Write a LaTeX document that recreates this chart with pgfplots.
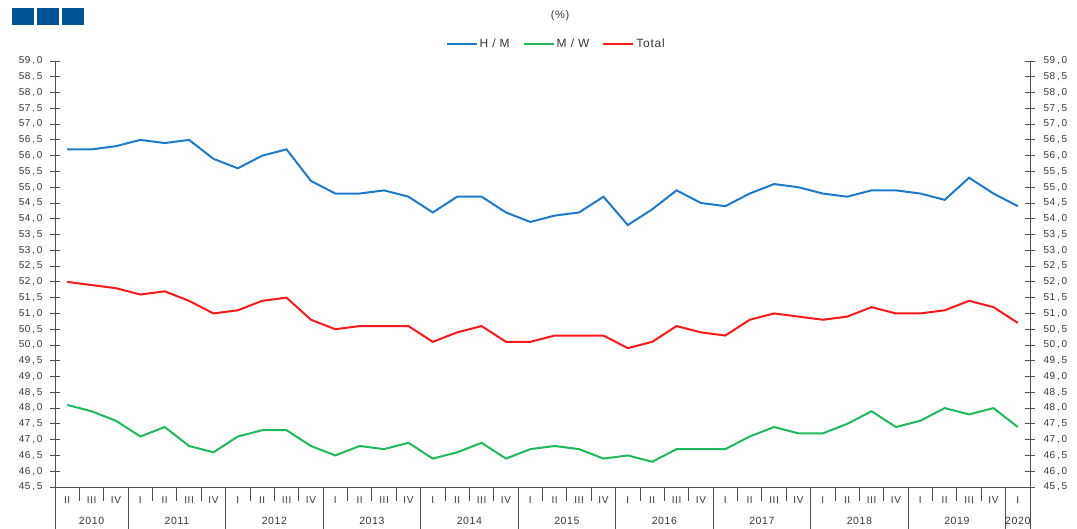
\documentclass[border=0pt]{standalone}
\usepackage{fontspec}
\setmainfont{Liberation Sans}[LetterSpace=6]
\usepackage{pgfplots}
\usepackage{pgfplotstable}
\pgfplotsset{compat=1.18}
\definecolor{cblue}{RGB}{28,122,200}
\definecolor{cgreen}{RGB}{30,185,90}
\definecolor{cred}{RGB}{250,25,25}
\definecolor{ctext}{RGB}{55,55,55}
\definecolor{clogo}{RGB}{0,84,150}
\definecolor{caxis}{RGB}{80,80,80}
\pgfplotstableread{
x hm mw tot
0 56.2 48.1 52.0
1 56.2 47.9 51.9
2 56.3 47.6 51.8
3 56.5 47.1 51.6
4 56.4 47.4 51.7
5 56.5 46.8 51.4
6 55.9 46.6 51.0
7 55.6 47.1 51.1
8 56.0 47.3 51.4
9 56.2 47.3 51.5
10 55.2 46.8 50.8
11 54.8 46.5 50.5
12 54.8 46.8 50.6
13 54.9 46.7 50.6
14 54.7 46.9 50.6
15 54.2 46.4 50.1
16 54.7 46.6 50.4
17 54.7 46.9 50.6
18 54.2 46.4 50.1
19 53.9 46.7 50.1
20 54.1 46.8 50.3
21 54.2 46.7 50.3
22 54.7 46.4 50.3
23 53.8 46.5 49.9
24 54.3 46.3 50.1
25 54.9 46.7 50.6
26 54.5 46.7 50.4
27 54.4 46.7 50.3
28 54.8 47.1 50.8
29 55.1 47.4 51.0
30 55.0 47.2 50.9
31 54.8 47.2 50.8
32 54.7 47.5 50.9
33 54.9 47.9 51.2
34 54.9 47.4 51.0
35 54.8 47.6 51.0
36 54.6 48.0 51.1
37 55.3 47.8 51.4
38 54.8 48.0 51.2
39 54.4 47.4 50.7
}\data
\begin{document}
\begin{tikzpicture}[x=1pt,y=1pt]
\useasboundingbox (0,0) rectangle (1077,528);
% logo squares
\fill[clogo] (12,503) rectangle (34,520);
\fill[clogo] (37,503) rectangle (59,520);
\fill[clogo] (62,503) rectangle (84,520);
\node[font=\fontsize{11}{13}\selectfont, text=ctext] at (560,512) {(\%)};
\pgfplotsset{
  common/.style={
    at={(55pt,41pt)}, anchor=south west, scale only axis,
    width=975pt, height=426pt,
    xmin=-0.5, xmax=39.5, ymin=45.5, ymax=59.0,
    ytick distance=0.5,
    tick align=center, major tick length=10pt,
    every tick/.style={caxis, line width=0.9pt},
    axis line style={caxis, line width=0.9pt},
    yticklabel style={text=ctext, font=\fontsize{10}{12}\selectfont},
    /pgf/number format/fixed, /pgf/number format/fixed zerofill,
    /pgf/number format/precision=1,
    /pgf/number format/set decimal separator={\kern1.8pt,\kern1.8pt},
    /pgf/number format/assume math mode=true,
    clip=false,
  }
}
\begin{axis}[common,
  axis x line*=bottom, axis y line*=left,
  yticklabel style={xshift=-4pt},
  xtick={0,...,39},
  xticklabels={II,III,IV,I,II,III,IV,I,II,III,IV,I,II,III,IV,I,II,III,IV,I,II,III,IV,I,II,III,IV,I,II,III,IV,I,II,III,IV,I,II,III,IV,I},
  major x tick style={draw=none},
  xticklabel style={text=ctext, font=\fontsize{10}{12}\selectfont, anchor=north, yshift=-1pt},
  legend style={at={(0.514,1)}, anchor=south, yshift=8pt, draw=none, fill=none,
    legend columns=-1, font=\fontsize{12}{14}\selectfont, text=ctext,
    /tikz/every even column/.append style={column sep=11pt}},
  legend image code/.code={\draw[#1, line width=2pt] (0pt,0pt) -- (30pt,0pt);},
]
\addplot[cblue, line width=2pt] table[x=x, y=hm] {\data};
\addlegendentry{H / M}
\addplot[cgreen, line width=2pt] table[x=x, y=mw] {\data};
\addlegendentry{M / W}
\addplot[cred, line width=2pt] table[x=x, y=tot] {\data};
\addlegendentry{Total}
\pgfplotsinvokeforeach{0.5,1.5,...,38.5}{
  \draw[caxis, line width=0.9pt] (axis cs:#1,45.5) -- ([yshift=-14pt]axis cs:#1,45.5);
}
\pgfplotsinvokeforeach{-0.5,2.5,6.5,10.5,14.5,18.5,22.5,26.5,30.5,34.5,38.5,39.5}{
  \draw[caxis, line width=0.9pt] (axis cs:#1,45.5) -- ([yshift=-42pt]axis cs:#1,45.5);
}
\node[text=ctext, font=\fontsize{10.5}{12}\selectfont] at ([yshift=-34pt]axis cs:1,45.5) {2010};
\node[text=ctext, font=\fontsize{10.5}{12}\selectfont] at ([yshift=-34pt]axis cs:4.5,45.5) {2011};
\node[text=ctext, font=\fontsize{10.5}{12}\selectfont] at ([yshift=-34pt]axis cs:8.5,45.5) {2012};
\node[text=ctext, font=\fontsize{10.5}{12}\selectfont] at ([yshift=-34pt]axis cs:12.5,45.5) {2013};
\node[text=ctext, font=\fontsize{10.5}{12}\selectfont] at ([yshift=-34pt]axis cs:16.5,45.5) {2014};
\node[text=ctext, font=\fontsize{10.5}{12}\selectfont] at ([yshift=-34pt]axis cs:20.5,45.5) {2015};
\node[text=ctext, font=\fontsize{10.5}{12}\selectfont] at ([yshift=-34pt]axis cs:24.5,45.5) {2016};
\node[text=ctext, font=\fontsize{10.5}{12}\selectfont] at ([yshift=-34pt]axis cs:28.5,45.5) {2017};
\node[text=ctext, font=\fontsize{10.5}{12}\selectfont] at ([yshift=-34pt]axis cs:32.5,45.5) {2018};
\node[text=ctext, font=\fontsize{10.5}{12}\selectfont] at ([yshift=-34pt]axis cs:36.5,45.5) {2019};
\node[text=ctext, font=\fontsize{10.5}{12}\selectfont] at ([yshift=-34pt]axis cs:39,45.5) {2020};
\end{axis}
\begin{axis}[common,
  axis x line=none, axis y line*=right,
  yticklabel style={xshift=5pt},
]
\addplot[draw=none] coordinates {(0,50)};
\end{axis}
\end{tikzpicture}
\end{document}
